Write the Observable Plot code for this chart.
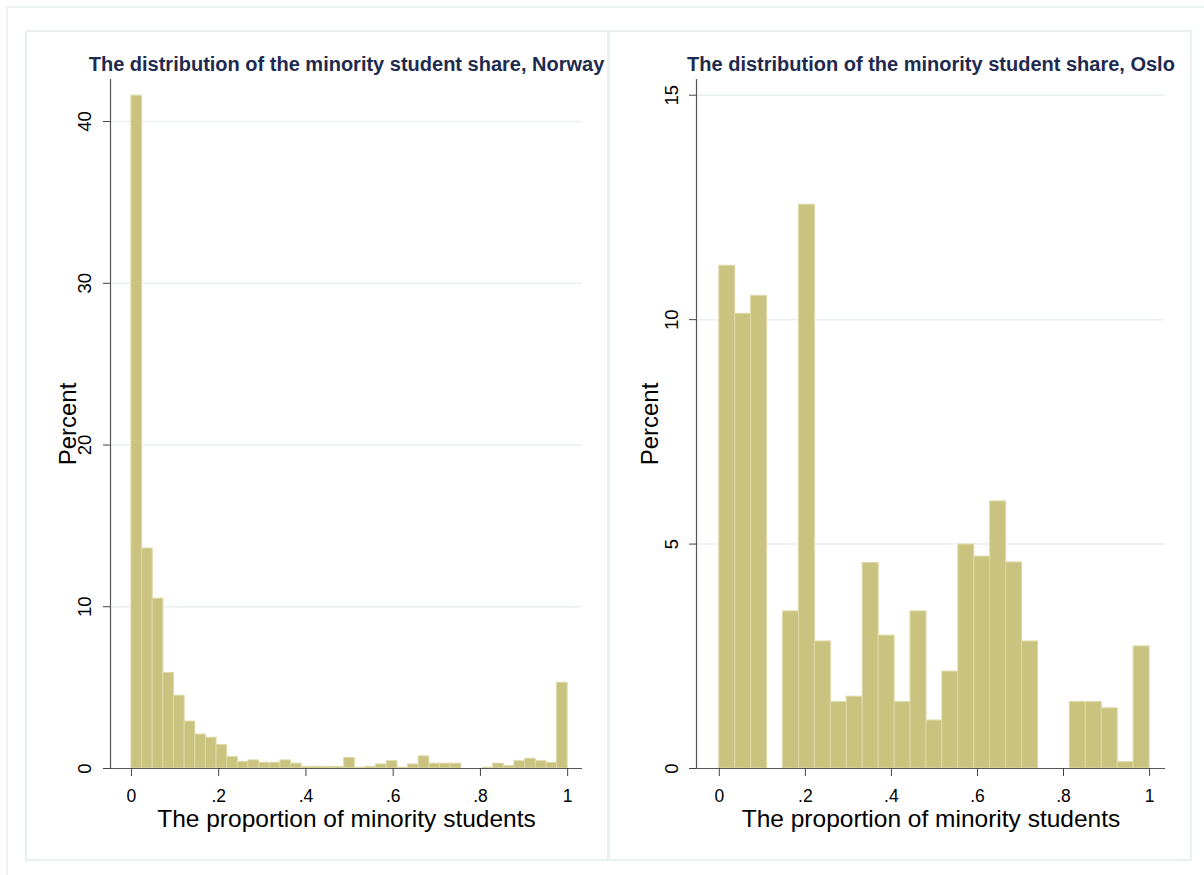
<!DOCTYPE html>
<html>
<head>
<meta charset="utf-8">
<script src="https://cdn.jsdelivr.net/npm/d3@7"></script>
<script src="https://cdn.jsdelivr.net/npm/@observablehq/plot@0.6"></script>
<style>
  html, body { margin: 0; padding: 0; background: #fff; }
  #page { position: relative; width: 1204px; height: 875px; background: #fff; font-family: "Liberation Sans", Arial, sans-serif; overflow: hidden; }
  .outer { position: absolute; left: 6px; top: 6px; width: 1210px; height: 880px; border: 2px solid #eef3f4; box-sizing: border-box; }
  .panel { position: absolute; top: 30px; height: 831px; border: 2px solid #e9f0f2; box-sizing: border-box; background: #fff; }
  .chart { position: absolute; top: 30px; }
</style>
</head>
<body>
<div id="page">
  <div class="outer"></div>
  <div class="panel" style="left:25px;width:584px;"></div>
  <div class="panel" style="left:608px;width:584px;"></div>
  <div id="left" class="chart" style="left:26px;"></div>
  <div id="right" class="chart" style="left:610px;"></div>
</div>
<script>
// ---- data (percent of schools per bin) ----
const norwayTitle = "The distribution of the minority student share, Norway";
const osloTitle = "The distribution of the minority student share, Oslo";
const xAxisTitle = "The proportion of minority students";
const yAxisTitle = "Percent";

const norwayBinCount = 41;
const norwayPercent = [41.6, 13.6, 10.5, 5.9, 4.5, 2.9, 2.1, 1.9, 1.45, 0.7,
  0.4, 0.5, 0.35, 0.35, 0.5, 0.3, 0.1, 0.1, 0.1, 0.1,
  0.65, 0.05, 0.1, 0.25, 0.45, 0.05, 0.25, 0.75, 0.3, 0.3,
  0.3, 0, 0, 0.05, 0.3, 0.15, 0.45, 0.6, 0.45, 0.35, 5.3];

const osloBinCount = 27;
const osloPercent = [11.2, 10.13, 10.53, 0, 3.5, 12.56, 2.83, 1.48, 1.6, 4.58,
  2.96, 1.48, 3.5, 1.07, 2.16, 4.99, 4.72, 5.95, 4.59, 2.83,
  0, 0, 1.48, 1.48, 1.34, 0.14, 2.72];

const xTicks = [0, 0.2, 0.4, 0.6, 0.8, 1];
const xTickLabels = ["0", ".2", ".4", ".6", ".8", "1"];
const norwayYTicks = [0, 10, 20, 30, 40];
const osloYTicks = [0, 5, 10, 15];

function bins(percent, count) {
  const w = 1 / count;
  return percent.map((p, i) => ({x1: i * w, x2: (i + 1) * w, pct: p})).filter(d => d.pct > 0);
}

function chart({title, data, yTicks, yDomain, xDomain, width, marginLeft, tickDx, labelDx}) {
  const xLab = xTicks.map((t, i) => ({t, s: xTickLabels[i]}));
  return Plot.plot({
    width, height: 830,
    marginLeft, marginRight: 25, marginTop: 49, marginBottom: 92,
    style: {fontFamily: "'Liberation Sans', Arial, sans-serif", background: "transparent", overflow: "visible"},
    x: {domain: xDomain, axis: null},
    y: {domain: yDomain, axis: null},
    marks: [
      Plot.ruleY(yTicks.filter(t => t > 0), {stroke: "#e8f0f2", strokeWidth: 1.5}),
      Plot.rectY(data, {x1: "x1", x2: "x2", y: "pct", fill: "#c9c37f", stroke: "#ddd8a6", strokeWidth: 1}),
      Plot.ruleY([0], {stroke: "#555", strokeWidth: 1.2}),
      Plot.ruleX([xDomain[0]], {stroke: "#555", strokeWidth: 1.2}),
      Plot.axisX({ticks: xTicks, tickSize: 8, tickFormat: () => "", label: null, stroke: "#444"}),
      Plot.axisY({ticks: yTicks, tickSize: 7, tickFormat: () => "", label: null, stroke: "#444"}),
      Plot.text(xLab, {x: "t", text: "s", frameAnchor: "bottom", dy: 28, lineAnchor: "middle", textAnchor: "middle", fontSize: 17.5, fill: "#000"}),
      Plot.text(yTicks, {y: d => d, text: d => String(d), frameAnchor: "left", dx: tickDx, rotate: -90, textAnchor: "middle", lineAnchor: "middle", fontSize: 18.5, fill: "#000"}),
      Plot.text([xAxisTitle], {frameAnchor: "bottom", dy: 51, lineAnchor: "middle", textAnchor: "middle", fontSize: 24.5, fill: "#000"}),
      Plot.text([yAxisTitle], {frameAnchor: "left", dx: labelDx, rotate: -90, textAnchor: "middle", lineAnchor: "middle", fontSize: 24, fill: "#000"}),
      Plot.text([title], {frameAnchor: "top", dy: -15, lineAnchor: "middle", textAnchor: "middle", fontSize: 20, fontWeight: "bold", fill: "#1e2a4e"})
    ]
  });
}

document.getElementById("left").append(chart({
  title: norwayTitle, data: bins(norwayPercent, norwayBinCount), yTicks: norwayYTicks,
  yDomain: [0, 42.6], xDomain: [-0.048, 1.034], width: 581, marginLeft: 84, tickDx: -25, labelDx: -42
}));
document.getElementById("right").append(chart({
  title: osloTitle, data: bins(osloPercent, osloBinCount), yTicks: osloYTicks,
  yDomain: [0, 15.35], xDomain: [-0.053, 1.037], width: 580, marginLeft: 86, tickDx: -24, labelDx: -46
}));
</script>
</body>
</html>
